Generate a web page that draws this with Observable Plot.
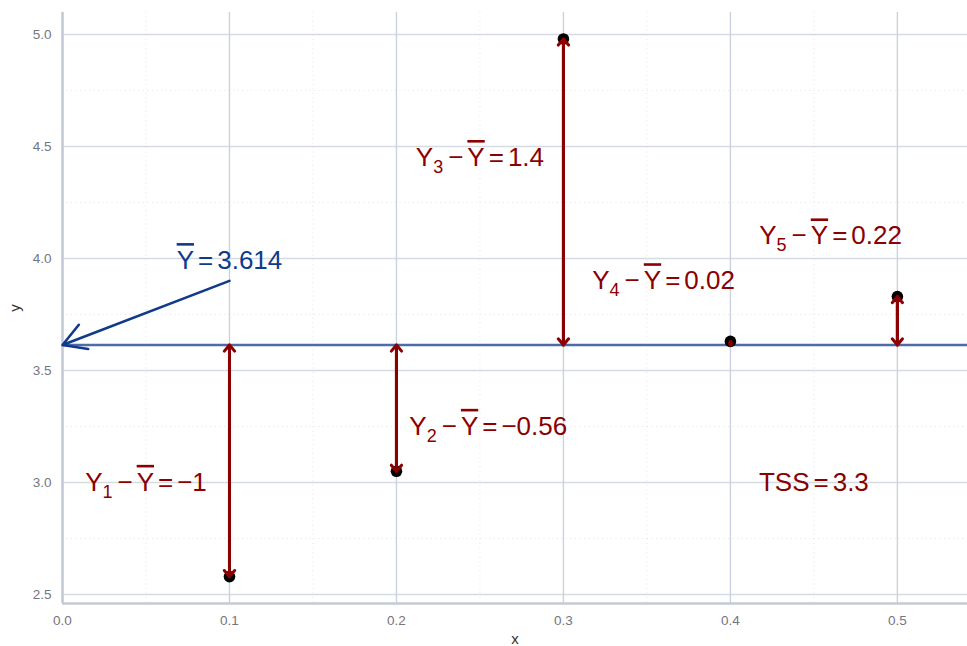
<!DOCTYPE html>
<html><head><meta charset="utf-8">
<script src="https://cdn.jsdelivr.net/npm/d3@7"></script>
<script src="https://cdn.jsdelivr.net/npm/@observablehq/plot@0.6"></script>
<style>html,body{margin:0;padding:0;background:#fff}</style>
</head><body><div id="chart"></div>
<script>
// data
const xs = [0.1, 0.2, 0.3, 0.4, 0.5];
const ys = [2.58, 3.05, 4.98, 3.63, 3.83];
const meanY = 3.614;
// deviation labels
const labX = [0.05, 0.255, 0.25, 0.36, 0.46];
const labY = [3.0, 3.25, 4.45, 3.9, 4.1];
const labSub = ["1", "2", "3", "4", "5"];
const labVal = ["−1", "−0.56", "1.4", "0.02", "0.22"];
// TSS label
const tssX = [0.45], tssY = [3.0], tssText = ["TSS", "3.3"];
// mean label + arrow
const meanLabX = [0.1], meanLabY = [3.99], meanLabVal = ["3.614"];
const meanArrowFrom = [0.1, 3.9], meanArrowTo = [0.0, meanY];
// scales / grid
const xDomain = [0, 0.542], yDomain = [2.46, 5.098];
const xTicks = [0, 0.1, 0.2, 0.3, 0.4, 0.5];
const xMajor = [0.1, 0.2, 0.3, 0.4, 0.5];
const xMinor = [0.05, 0.15, 0.25, 0.35, 0.45];
const yMajor = [2.5, 3.0, 3.5, 4.0, 4.5, 5.0];
const yMinor = [2.75, 3.25, 3.75, 4.25, 4.75];

const pts = xs.map((x, i) => ({x, y: ys[i]}));
const labs = labX.map((x, i) => ({x, y: labY[i], t: "Y" + labSub[i] + " − Y = " + labVal[i]}));

const red = "#8B0000", blue = "#103a8a";
const F = "'Liberation Sans', Arial, Helvetica, sans-serif";

const plot = Plot.plot({
  width: 967, height: 646,
  marginLeft: 62, marginRight: 0, marginTop: 12, marginBottom: 43,
  style: {fontFamily: F, background: "#fff"},
  x: {domain: xDomain},
  y: {domain: yDomain},
  marks: [
    Plot.ruleY(yMinor, {stroke: "#e2e5ea", strokeWidth: 1, strokeDasharray: "1,3.5"}),
    Plot.ruleX(xMinor, {stroke: "#e2e5ea", strokeWidth: 1, strokeDasharray: "1,3.5"}),
    Plot.ruleY(yMajor, {stroke: "#d6dae1", strokeWidth: 1.6}),
    Plot.ruleX(xMajor, {stroke: "#cbd2dd", strokeWidth: 1.4}),
    Plot.ruleX([xDomain[0]], {stroke: "#c3cad5", strokeWidth: 2.6}),
    Plot.ruleY([yDomain[0]], {stroke: "#c3cad5", strokeWidth: 2.6}),
    Plot.axisX({ticks: xTicks, tickSize: 0, tickPadding: 12, tickFormat: d3.format(".1f"),
      fill: "#74757f", label: "x", labelAnchor: "center", labelArrow: "none", labelOffset: 40}),
    Plot.axisY({ticks: yMajor, tickSize: 0, tickPadding: 11, tickFormat: d3.format(".1f"),
      fill: "#74757f", label: "y", labelAnchor: "center", labelArrow: "none", labelOffset: 53}),
    Plot.ruleY([meanY], {stroke: "#4c6ba7", strokeWidth: 2.4}),
    Plot.dot(pts, {x: "x", y: "y", r: 5.8, fill: "black"}),
    Plot.arrow(pts, {x1: "x", y1: () => meanY, x2: "x", y2: "y", stroke: red, strokeWidth: 3, headLength: 4, headAngle: 80}),
    Plot.arrow(pts, {x1: "x", y1: "y", x2: "x", y2: () => meanY, stroke: red, strokeWidth: 3, headLength: 4, headAngle: 80}),
    Plot.arrow([0], {x1: () => meanArrowFrom[0], y1: () => meanArrowFrom[1], x2: () => meanArrowTo[0], y2: () => meanArrowTo[1],
      stroke: blue, strokeWidth: 2.6, headLength: 15, headAngle: 60}),
    Plot.text(labs, {x: "x", y: "y", text: "t", fill: red, fontSize: 26, fontFamily: F}),
    Plot.text(tssX, {x: d => d, y: (d, i) => tssY[i], text: () => tssText.join(" = "), fill: red, fontSize: 26, fontFamily: F}),
    Plot.text(meanLabX, {x: d => d, y: (d, i) => meanLabY[i], text: (d, i) => "Y = " + meanLabVal[i], fill: blue, fontSize: 26, fontFamily: F})
  ]
});

// rich text (subscripts and overlines) for the annotation labels
const NS = "http://www.w3.org/2000/svg";
function rich(el, parts) {
  while (el.firstChild) el.removeChild(el.firstChild);
  let shifted = 0;
  for (const p of parts) {
    const ts = document.createElementNS(NS, "tspan");
    ts.textContent = p.t;
    let dy = 0;
    if (p.sub) { ts.style.fontSize = "18px"; dy = 7 - shifted; shifted = 7; }
    else if (shifted) { dy = -shifted; shifted = 0; }
    if (dy) ts.setAttribute("dy", dy);
    if (p.dx) ts.setAttribute("dx", p.dx);
    if (p.over) ts.setAttribute("text-decoration", "overline");
    el.appendChild(ts);
  }
}
const annot = new Set();
const groups = plot.querySelectorAll('g[aria-label="text"]');
groups[0].querySelectorAll("text").forEach((el, i) => {
  annot.add(el);
  rich(el, [{t: "Y"}, {t: labSub[i], sub: true}, {t: "−", dx: 5}, {t: "Y", over: true, dx: 4}, {t: "=", dx: 4}, {t: labVal[i], dx: 4}]);
});
groups[1].querySelectorAll("text").forEach(el => {
  annot.add(el);
  rich(el, [{t: tssText[0]}, {t: "=", dx: 4}, {t: tssText[1], dx: 4}]);
});
groups[2].querySelectorAll("text").forEach((el, i) => {
  annot.add(el);
  rich(el, [{t: "Y", over: true}, {t: "=", dx: 4}, {t: meanLabVal[i], dx: 4}]);
});
plot.querySelectorAll("text").forEach(t => {
  if (annot.has(t)) { t.style.fontSize = "26px"; return; }
  const g = t.closest("g[aria-label]");
  const lab = g ? g.getAttribute("aria-label") : "";
  if (/tick/.test(lab)) { t.style.fontSize = "13.5px"; t.style.fill = "#74757f"; }
  else { t.style.fontSize = "15px"; t.style.fill = "#333"; }
});
document.getElementById("chart").appendChild(plot);
</script>
</body></html>
